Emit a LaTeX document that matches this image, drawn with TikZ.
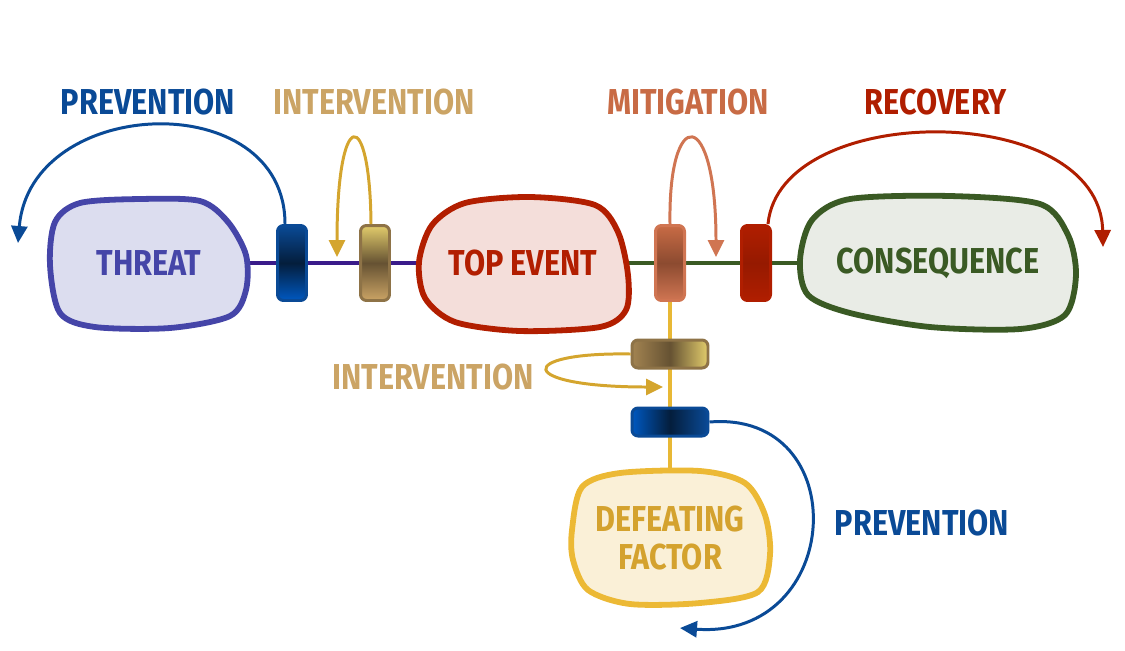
\documentclass[tikz,border=0pt]{standalone}
\usepackage{fontspec}
\setmainfont{Fira Sans}[FakeStretch=0.85]
\usetikzlibrary{arrows.meta,backgrounds}
\definecolor{prevblue}{HTML}{0A4A96}
\definecolor{prevlight}{HTML}{0058C0}
\definecolor{intertan}{HTML}{CBA465}
\definecolor{intergold}{HTML}{D4A52E}
\definecolor{mitig}{HTML}{C86B45}
\definecolor{mitigarrow}{HTML}{D07552}
\definecolor{recov}{HTML}{B01E00}
\definecolor{threatc}{HTML}{4545A8}
\definecolor{threatf}{HTML}{DCDDEF}
\definecolor{topc}{HTML}{B21E00}
\definecolor{topf}{HTML}{F4DEDA}
\definecolor{consc}{HTML}{3A5A24}
\definecolor{consf}{HTML}{E9ECE6}
\definecolor{defc}{HTML}{ECB935}
\definecolor{deff}{HTML}{FAF0D7}
\definecolor{deftext}{HTML}{D4A22E}
\definecolor{linkpurple}{HTML}{3A1B8A}
\definecolor{linkyellow}{HTML}{E8B835}
\tikzset{
  bigtext/.style={font=\fontsize{20.5}{22}\selectfont\bfseries, align=center, inner sep=0pt},
  blob/.style={line width=3.3pt},
  barrier/.style={rounded corners=0.12cm, line width=1.7pt, inner sep=0pt},
  vbar/.style={barrier, minimum width=0.58cm, minimum height=1.5cm},
  hbar/.style={barrier, minimum width=1.52cm, minimum height=0.56cm},
  link/.style={line width=1.8pt},
  loopline/.style={line width=1.7pt, -{Triangle[length=0.34cm,width=0.32cm]}}
}
\begin{document}
\begin{tikzpicture}[x=0.02cm,y=-0.02cm]
\useasboundingbox (0,0) rectangle (1125,650);

\filldraw[blob, draw=threatc, fill=threatf] plot[smooth cycle] coordinates
  {(50,265) (55,222) (80,203) (140,199) (200,201) (228,222) (246,255) (246,290) (230,316) (170,328) (95,327) (60,313)};
\filldraw[blob, draw=topc, fill=topf] plot[smooth cycle] coordinates
  {(419,262) (432,225) (465,203) (530,197) (595,205) (618,232) (628,275) (626,310) (600,327) (520,331) (455,322) (425,298)};
\filldraw[blob, draw=consc, fill=consf] plot[smooth cycle] coordinates
  {(800,260) (812,220) (850,199) (950,196) (1040,204) (1068,235) (1076,275) (1065,315) (1020,329) (930,327) (850,313) (808,295)};
\filldraw[blob, draw=defc, fill=deff] plot[smooth cycle] coordinates
  {(572,530) (582,487) (620,473) (700,471) (745,483) (765,515) (770,555) (758,592) (700,603) (630,604) (588,590) (573,560)};

\node[bigtext, text=threatc, minimum width=3.96cm, minimum height=2.56cm] (threat) at (149,263) {THREAT};
\node[bigtext, text=topc, minimum width=4.2cm, minimum height=2.64cm] (topev) at (523,263) {TOP EVENT};
\node[bigtext, text=consc, minimum width=5.52cm, minimum height=2.64cm] (conseq) at (938,263) {CONSEQUENCE};
\node[bigtext, text=deftext, minimum width=4cm, minimum height=2.64cm] (defeat) at (670,538) {DEFEATING\\FACTOR};

\node[vbar, draw=prevblue, top color=prevblue, bottom color=prevlight, middle color=prevblue!40!black] (bprev) at (292,263) {};
\node[vbar, draw=intertan!70!black, top color=intertan!70!yellow!80!white, bottom color=intertan, middle color=intertan!50!black] (binter) at (375,263) {};
\node[vbar, draw=mitigarrow, top color=mitig, bottom color=mitigarrow, middle color=mitig!70!black] (bmitig) at (670,263) {};
\node[vbar, draw=recov, top color=recov, bottom color=recov, middle color=recov!85!black] (brecov) at (756,263) {};
\node[hbar, draw=intertan!70!black, left color=intertan!80!black, right color=intertan!70!yellow!80!white, middle color=intertan!50!black] (binter2) at (670,354) {};
\node[hbar, draw=prevblue, left color=prevlight, right color=prevblue, middle color=prevblue!40!black] (bprev2) at (670,422) {};

\begin{scope}[on background layer]
\draw[link, linkpurple] (threat.east) -- (topev.west);
\draw[link, consc] (topev.east) -- (conseq.west);
\draw[link, linkyellow] (bmitig.south) -- (defeat.north);
\end{scope}

\coordinate (prevend) at (18,243);
\coordinate (interend) at (337,257);
\coordinate (mitigend) at (716,257);
\coordinate (recovend) at (1103,247);
\coordinate (interend2) at (663,387);
\coordinate (prevend2) at (680,628);

\draw[loopline, prevblue] ([xshift=-0.14cm]bprev.north) .. controls (285,85) and (30,95) .. (prevend);
\draw[loopline, intergold] ([xshift=-0.08cm]binter.north) .. controls (370,105) and (337,105) .. (interend);
\draw[loopline, mitigarrow] (bmitig.north) .. controls (668,105) and (716,105) .. (mitigend);
\draw[loopline, recov] ([xshift=-0.08cm]brecov.north east) .. controls (780,100) and (1100,100) .. (recovend);
\draw[loopline, intergold] (binter2.west) .. controls (515,352) and (515,387) .. (interend2);
\draw[loopline, prevblue] (bprev2.east) .. controls (855,410) and (845,640) .. (prevend2);

\node[bigtext, text=prevblue] (lblprev) at (148,102) {PREVENTION};
\node[bigtext, text=intertan] (lblinter) at (374,102) {INTERVENTION};
\node[bigtext, text=mitig] (lblmitig) at (688,102) {MITIGATION};
\node[bigtext, text=recov] (lblrecov) at (936,102) {RECOVERY};
\node[bigtext, text=intertan] (lblinter2) at (433,377) {INTERVENTION};
\node[bigtext, text=prevblue] (lblprev2) at (922,523) {PREVENTION};
\end{tikzpicture}
\end{document}
